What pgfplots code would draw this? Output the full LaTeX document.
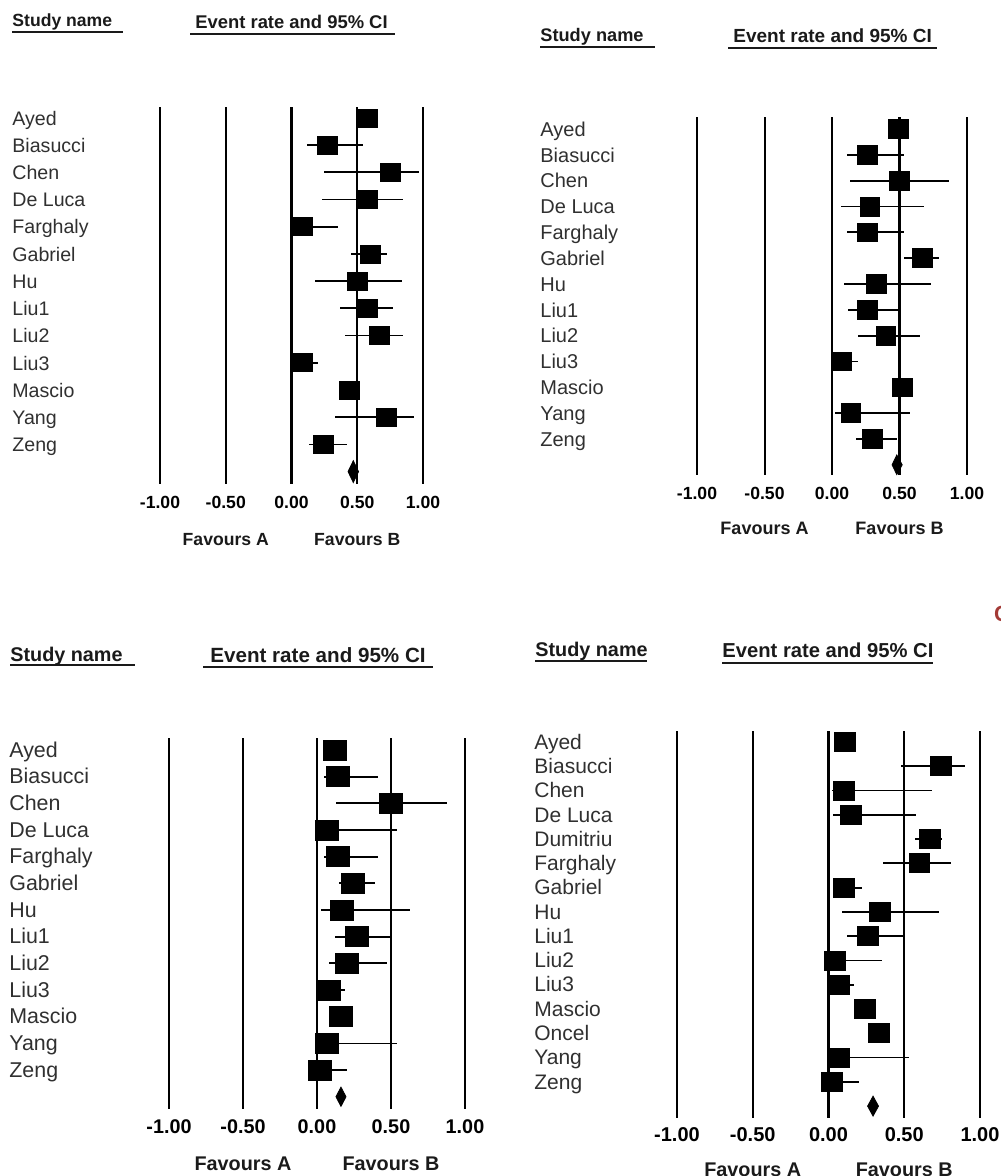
\documentclass[border=0pt]{standalone}
\usepackage{fontspec}
\setmainfont{Liberation Sans}
\usepackage{pgfplots}
\usepackage{pgfplotstable}
\pgfplotsset{compat=1.18}
\definecolor{txt}{HTML}{303030}
\definecolor{hdr}{HTML}{1A1A1A}
\definecolor{redc}{HTML}{A33A36}

% Panel 1 (top left)
\pgfplotstableread{
row est lo hi
1 0.58 0.52 0.64
2 0.27 0.12 0.54
3 0.75 0.25 0.97
4 0.58 0.23 0.85
5 0.08 0.02 0.35
6 0.60 0.45 0.73
7 0.50 0.18 0.84
8 0.58 0.37 0.77
9 0.67 0.41 0.85
10 0.08 0.02 0.20
11 0.44 0.40 0.48
12 0.72 0.33 0.93
13 0.24 0.13 0.42
}\tA
% Panel 2 (top right)
\pgfplotstableread{
row est lo hi
1 0.49 0.45 0.53
2 0.26 0.11 0.53
3 0.50 0.13 0.87
4 0.28 0.07 0.68
5 0.26 0.11 0.53
6 0.67 0.53 0.79
7 0.33 0.09 0.73
8 0.26 0.12 0.49
9 0.40 0.19 0.65
10 0.07 0.01 0.19
11 0.52 0.48 0.56
12 0.14 0.02 0.58
13 0.30 0.18 0.48
}\tB
% Panel 3 (bottom left)
\pgfplotstableread{
row est lo hi
1 0.12 0.08 0.16
2 0.14 0.05 0.41
3 0.50 0.13 0.88
4 0.07 0.00 0.54
5 0.14 0.05 0.41
6 0.24 0.15 0.39
7 0.17 0.03 0.63
8 0.27 0.12 0.50
9 0.20 0.08 0.47
10 0.08 0.01 0.19
11 0.16 0.12 0.20
12 0.07 0.00 0.54
13 0.02 -0.05 0.20
}\tC
% Panel 4 (bottom right)
\pgfplotstableread{
row est lo hi
1 0.11 0.07 0.15
2 0.74 0.48 0.90
3 0.10 0.02 0.68
4 0.15 0.03 0.58
5 0.67 0.57 0.75
6 0.60 0.36 0.81
7 0.10 0.04 0.22
8 0.34 0.09 0.73
9 0.26 0.12 0.50
10 0.04 -0.02 0.35
11 0.07 0.02 0.17
12 0.24 0.20 0.28
13 0.33 0.26 0.40
14 0.07 0.02 0.53
15 0.02 -0.04 0.20
}\tD

\pgfplotsset{
  forest/.style={
    scale only axis, y dir=reverse, xmin=-1, xmax=1, clip=false,
    axis lines*=left, axis line style={draw=none}, major tick length=0pt,
    xtick={-1,-0.5,0,0.5,1},
    xticklabels={-1.00,-0.50,0.00,0.50,1.00},
  },
  studies/.style={only marks, mark=square*, black,
    error bars/x dir=both, error bars/x explicit, error bars/error mark=none,
    error bars/error bar style={line width=0.9pt, black}},
}
\newcommand{\fs}[1]{\fontsize{#1}{#1}\selectfont}

\begin{document}
\begin{tikzpicture}
\path[use as bounding box] (0,0) rectangle (500pt,-588pt);

% ---------------- Panel 1 ----------------
\begin{axis}[forest, at={(80pt,-53.5pt)}, anchor=north west,
  width=131.5pt, height=188.5pt, ymin=0.596, ymax=14.456,
  ytick={1,...,13},
  yticklabels={Ayed,Biasucci,Chen,De Luca,Farghaly,Gabriel,Hu,Liu1,Liu2,Liu3,Mascio,Yang,Zeng},
  yticklabel style={anchor=west, inner sep=0pt, text=txt, font=\fs{9.8}, text height=0.72em, text depth=0pt, xshift=-74pt},
  xticklabel style={anchor=center, inner sep=0pt, font=\bfseries\fs{8.8}, yshift=-9pt},
]
\addplot[black, line width=1.2pt] coordinates {(-1,0.596) (-1,14.456)};
\addplot[black, line width=0.75pt] coordinates {(-0.5,0.596) (-0.5,14.456)};
\addplot[black, line width=1.2pt] coordinates {(0,0.596) (0,14.456)};
\addplot[black, line width=1.2pt] coordinates {(0.5,0.596) (0.5,14.456)};
\addplot[black, line width=0.75pt] coordinates {(1,0.596) (1,14.456)};
\addplot[studies, mark size=4.5pt, mark options={xscale=1.1}]
  table[x=est, y=row, x error plus expr=\thisrow{hi}-\thisrow{est}, x error minus expr=\thisrow{est}-\thisrow{lo}] {\tA};
\addplot[fill=black, draw=black] coordinates {(0.43,14) (0.47,13.6) (0.51,14) (0.47,14.4)} -- cycle;
\node[font=\bfseries\fs{8.8}, text=hdr] at (axis cs:-0.5,14.456) [yshift=-28pt] {Favours A};
\node[font=\bfseries\fs{8.8}, text=hdr] at (axis cs:0.5,14.456) [yshift=-28pt] {Favours B};
\end{axis}
\node[anchor=base west, inner sep=0pt, font=\bfseries\fs{8.8}, text=hdr] at (6pt,-13.5pt) {Study name};
\draw[hdr, line width=0.9pt] (6pt,-16pt) -- (61.5pt,-16pt);
\node[anchor=base west, inner sep=0pt, font=\bfseries\fs{9.2}, text=hdr] at (97.5pt,-14.5pt) {Event rate and 95\% CI};
\draw[hdr, line width=0.9pt] (95pt,-17pt) -- (197.5pt,-17pt);

% ---------------- Panel 2 ----------------
\begin{axis}[forest, at={(348.5pt,-58.5pt)}, anchor=north west,
  width=135pt, height=179pt, ymin=0.535, ymax=14.395,
  ytick={1,...,13},
  yticklabels={Ayed,Biasucci,Chen,De Luca,Farghaly,Gabriel,Hu,Liu1,Liu2,Liu3,Mascio,Yang,Zeng},
  yticklabel style={anchor=west, inner sep=0pt, text=txt, font=\fs{10}, text height=0.72em, text depth=0pt, xshift=-78.5pt},
  xticklabel style={anchor=center, inner sep=0pt, font=\bfseries\fs{8.8}, yshift=-9pt},
]
\addplot[black, line width=1.1pt] coordinates {(-1,0.535) (-1,14.395)};
\addplot[black, line width=1.0pt] coordinates {(-0.5,0.535) (-0.5,14.395)};
\addplot[black, line width=1.1pt] coordinates {(0,0.535) (0,14.395)};
\addplot[black, line width=1.1pt] coordinates {(0.5,0.535) (0.5,14.395)};
\addplot[black, line width=1.0pt] coordinates {(1,0.535) (1,14.395)};
\addplot[studies, mark size=4.7pt, mark options={xscale=1.05}]
  table[x=est, y=row, x error plus expr=\thisrow{hi}-\thisrow{est}, x error minus expr=\thisrow{est}-\thisrow{lo}] {\tB};
\addplot[fill=black, draw=black] coordinates {(0.445,14) (0.48,13.62) (0.52,14) (0.48,14.38)} -- cycle;
\node[font=\bfseries\fs{9}, text=hdr] at (axis cs:-0.5,14.395) [yshift=-26.5pt] {Favours A};
\node[font=\bfseries\fs{9}, text=hdr] at (axis cs:0.5,14.395) [yshift=-26.5pt] {Favours B};
\end{axis}
\node[anchor=base west, inner sep=0pt, font=\bfseries\fs{9.1}, text=hdr] at (270pt,-21pt) {Study name};
\draw[hdr, line width=0.9pt] (270pt,-23.5pt) -- (327.5pt,-23.5pt);
\node[anchor=base west, inner sep=0pt, font=\bfseries\fs{9.5}, text=hdr] at (366.5pt,-21.5pt) {Event rate and 95\% CI};
\draw[hdr, line width=0.9pt] (364pt,-24pt) -- (468.5pt,-24pt);

% red letter cut by the right edge (as in the reference)
\node[anchor=west, inner sep=0pt, font=\bfseries\fs{11}, text=redc] at (496.8pt,-307pt) {C};

% ---------------- Panel 3 ----------------
\begin{axis}[forest, at={(84.5pt,-369pt)}, anchor=north west,
  width=148pt, height=185.5pt, ymin=0.55, ymax=14.46,
  ytick={1,...,13},
  yticklabels={Ayed,Biasucci,Chen,De Luca,Farghaly,Gabriel,Hu,Liu1,Liu2,Liu3,Mascio,Yang,Zeng},
  yticklabel style={anchor=west, inner sep=0pt, text=txt, font=\fs{10.7}, text height=0.72em, text depth=0pt, xshift=-80pt},
  xticklabel style={anchor=center, inner sep=0pt, font=\bfseries\fs{9.9}, yshift=-9pt},
]
\addplot[black, line width=1.2pt] coordinates {(-1,0.55) (-1,14.46)};
\addplot[black, line width=0.8pt] coordinates {(-0.5,0.55) (-0.5,14.46)};
\addplot[black, line width=1.2pt] coordinates {(0,0.55) (0,14.46)};
\addplot[black, line width=1.2pt] coordinates {(0.5,0.55) (0.5,14.46)};
\addplot[black, line width=0.8pt] coordinates {(1,0.55) (1,14.46)};
\addplot[studies, mark size=5pt, mark options={xscale=1.15}]
  table[x=est, y=row, x error plus expr=\thisrow{hi}-\thisrow{est}, x error minus expr=\thisrow{est}-\thisrow{lo}] {\tC};
\addplot[fill=black, draw=black] coordinates {(0.128,14) (0.162,13.64) (0.196,14) (0.162,14.36)} -- cycle;
\node[font=\bfseries\fs{9.9}, text=hdr] at (axis cs:-0.5,14.46) [yshift=-27.5pt] {Favours A};
\node[font=\bfseries\fs{9.9}, text=hdr] at (axis cs:0.5,14.46) [yshift=-27.5pt] {Favours B};
\end{axis}
\node[anchor=base west, inner sep=0pt, font=\bfseries\fs{9.9}, text=hdr] at (5pt,-330.5pt) {Study name};
\draw[hdr, line width=0.9pt] (5pt,-332.5pt) -- (67.5pt,-332.5pt);
\node[anchor=base west, inner sep=0pt, font=\bfseries\fs{10.3}, text=hdr] at (105pt,-331pt) {Event rate and 95\% CI};
\draw[hdr, line width=0.9pt] (101.5pt,-333.5pt) -- (216.5pt,-333.5pt);

% ---------------- Panel 4 ----------------
\begin{axis}[forest, at={(338.5pt,-365.5pt)}, anchor=north west,
  width=151.5pt, height=193.5pt, ymin=0.547, ymax=16.49,
  ytick={1,...,15},
  yticklabels={Ayed,Biasucci,Chen,De Luca,Dumitriu,Farghaly,Gabriel,Hu,Liu1,Liu2,Liu3,Mascio,Oncel,Yang,Zeng},
  yticklabel style={anchor=west, inner sep=0pt, text=txt, font=\fs{10.5}, text height=0.72em, text depth=0pt, xshift=-71.5pt},
  xticklabel style={anchor=center, inner sep=0pt, font=\bfseries\fs{10}, yshift=-8.5pt},
]
\addplot[black, line width=1.2pt] coordinates {(-1,0.547) (-1,16.49)};
\addplot[black, line width=0.8pt] coordinates {(-0.5,0.547) (-0.5,16.49)};
\addplot[black, line width=1.2pt] coordinates {(0,0.547) (0,16.49)};
\addplot[black, line width=1.0pt] coordinates {(0.5,0.547) (0.5,16.49)};
\addplot[black, line width=1.1pt] coordinates {(1,0.547) (1,16.49)};
\addplot[studies, mark size=4.75pt, mark options={xscale=1.1}]
  table[x=est, y=row, x error plus expr=\thisrow{hi}-\thisrow{est}, x error minus expr=\thisrow{est}-\thisrow{lo}] {\tD};
\addplot[fill=black, draw=black] coordinates {(0.258,16) (0.294,15.59) (0.33,16) (0.294,16.41)} -- cycle;
\node[font=\bfseries\fs{9.9}, text=hdr] at (axis cs:-0.5,16.49) [yshift=-26pt] {Favours A};
\node[font=\bfseries\fs{9.9}, text=hdr] at (axis cs:0.5,16.49) [yshift=-26pt] {Favours B};
\end{axis}
\node[anchor=base west, inner sep=0pt, font=\bfseries\fs{9.9}, text=hdr] at (267.5pt,-328pt) {Study name};
\draw[hdr, line width=0.9pt] (267.5pt,-330.5pt) -- (323.5pt,-330.5pt);
\node[anchor=base west, inner sep=0pt, font=\bfseries\fs{10.1}, text=hdr] at (361pt,-328.5pt) {Event rate and 95\% CI};
\draw[hdr, line width=0.9pt] (361pt,-331.5pt) -- (466.5pt,-331.5pt);
\end{tikzpicture}
\end{document}
